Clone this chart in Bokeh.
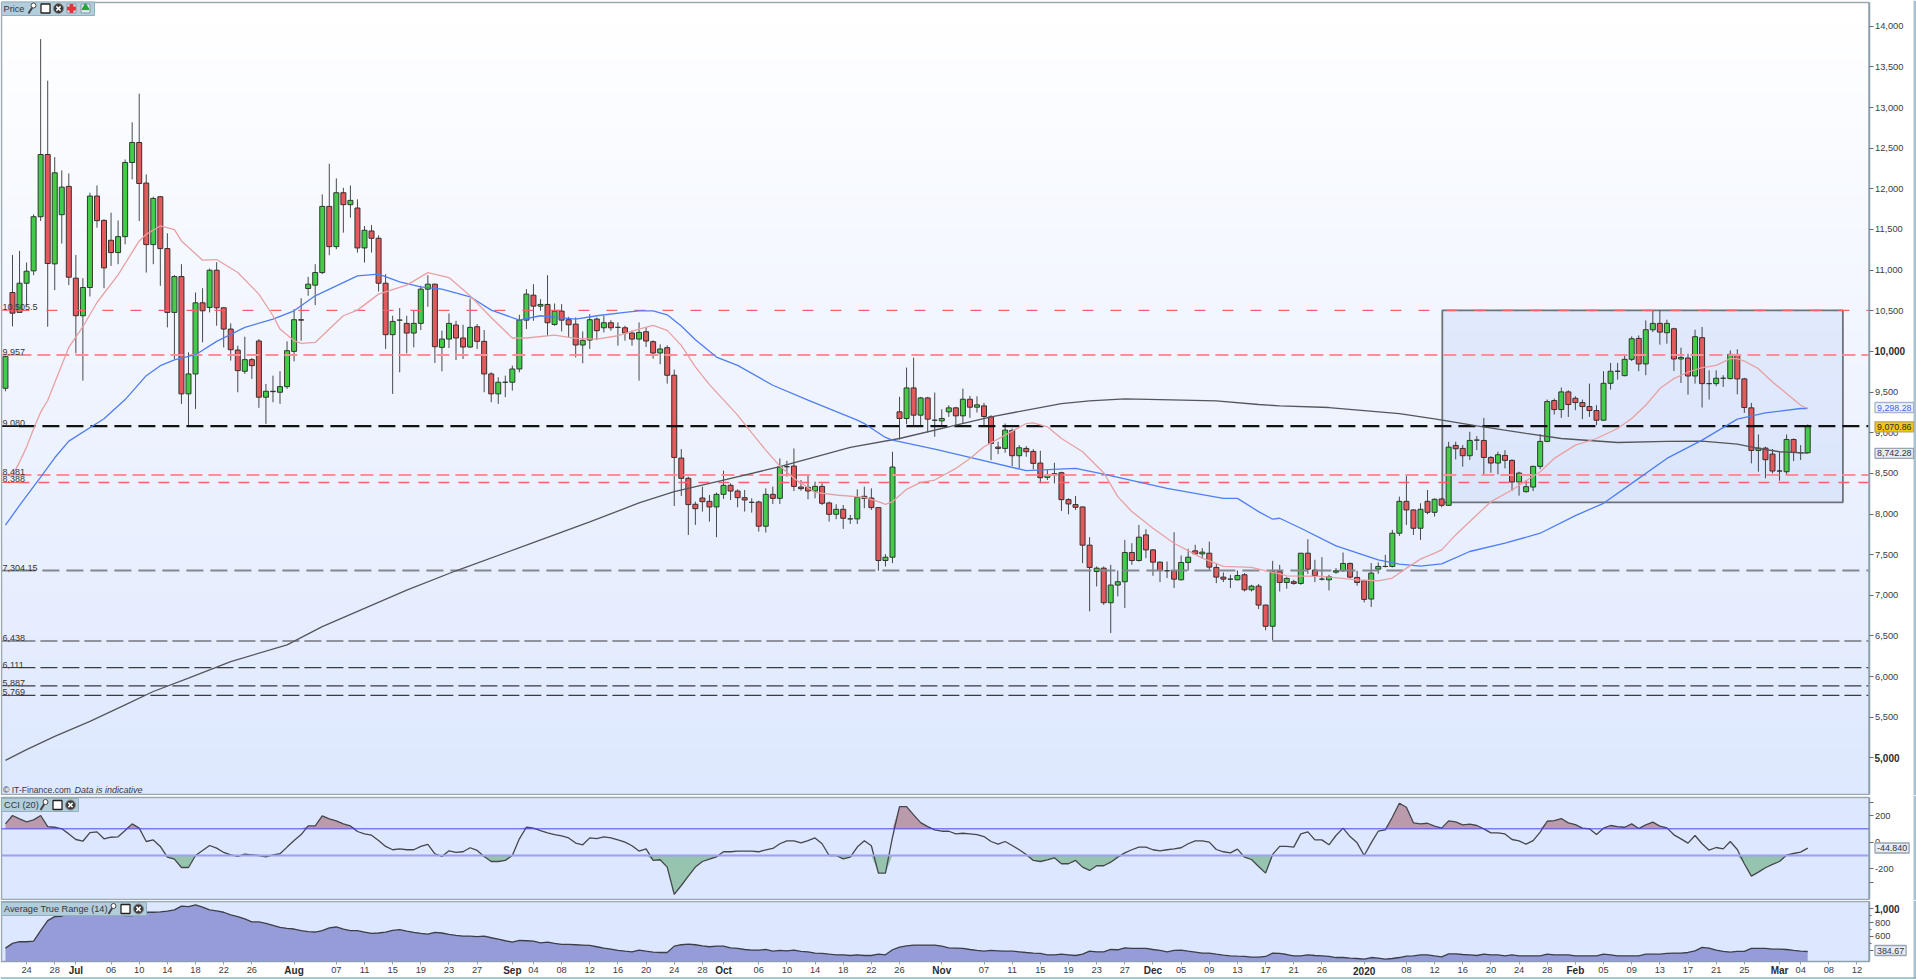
from bokeh.plotting import figure
from bokeh.layouts import column
from bokeh.models import Label, FixedTicker, NumeralTickFormatter, Range1d, LinearAxis
from bokeh.embed import file_html
from bokeh.resources import INLINE

opens = [9547,10725,10480,10839,10991,11657,12422,11077,11682,12030,
10901,10439,10786,11911,11612,11367,11216,11412,12324,12570,
12071,11314,11903,11265,10480,10921,9478,9723,10598,10541,
10999,10537,10275,10017,9756,9899,10128,9437,9510,9498,
9567,10001,10390,10774,10815,10970,11784,11289,11952,11805,
11764,11273,11482,11392,10839,10206,10385,10345,10226,10345,
10766,10827,10050,10152,10324,10165,10054,10304,10124,9723,
9478,9621,9621,9784,10385,10692,10557,10578,10332,10496,
10390,10336,10079,10140,10398,10291,10353,10296,10291,10226,
10152,10242,10120,9981,10046,9707,8688,8439,8120,8197,
8156,8087,8242,8353,8283,8201,8144,8148,7850,8242,
8193,8582,8590,8332,8328,8283,8340,8136,7997,8058,
7940,7940,8218,8197,8079,7428,7469,9257,9175,9551,
9216,9428,9154,9146,9257,9306,9208,9412,9314,9330,
9195,8823,8807,9028,8717,8807,8770,8627,8451,8480,
8508,8177,8116,8087,7617,7293,7334,6909,7126,7167,
7527,7428,7743,7559,7408,7302,7302,7191,7404,7547,
7510,7518,7343,7224,7199,7191,7253,7068,7113,6880,
6619,7293,7158,7167,7146,7518,7310,7199,7191,7285,
7302,7392,7220,7179,6954,7322,7355,7355,7764,8156,
8050,7825,8156,8021,8185,8107,8844,8807,8717,8909,
8905,8696,8627,8721,8660,8394,8275,8332,8586,8893,
9396,9285,9502,9424,9371,9322,9273,9154,9608,9756,
9702,9903,10160,9846,10267,10345,10230,10279,9907,9919,
9698,10169,9604,9604,9670,9666,9960,9662,9306,8782,
8811,8737,8529,8520,8917,8754,8754]
highs = [9948,11187,11236,11093,11686,13842,13330,12390,12226,12189,
11187,10901,11952,12042,11625,11707,11612,12361,12819,13171,
12177,11903,11911,11453,10938,11073,9989,10725,10778,11019,
11097,10537,10345,10071,10181,9919,10152,9600,9702,9756,
10124,10520,10655,10917,11073,11932,12308,12128,12013,12042,
11870,11543,11555,11428,10950,10439,10533,10439,10500,10807,
10938,10835,10255,10467,10377,10328,10651,10336,10263,9743,
9682,9702,9825,10451,10766,10827,10643,10938,10590,10582,
10426,10418,10246,10459,10418,10439,10385,10357,10316,10255,
10357,10300,10136,10087,10075,9776,8799,8459,8152,8336,
8234,8263,8533,8377,8304,8296,8193,8165,8316,8336,
8684,8655,8807,8418,8480,8398,8377,8152,8120,8111,
7989,8304,8336,8316,8079,7506,8766,9441,9801,9923,
9441,9441,9494,9289,9338,9318,9543,9453,9449,9367,
9216,8889,9113,9052,8848,8835,8799,8778,8541,8631,
8520,8193,8222,8091,7715,7355,7355,7375,7306,7682,
7641,7866,7813,7567,7416,7416,7776,7490,7572,7621,
7580,7661,7396,7281,7253,7306,7273,7130,7138,6884,
7424,7375,7224,7191,7518,7690,7437,7469,7253,7334,
7527,7404,7302,7191,7396,7404,7498,7805,8214,8467,
8058,8132,8295,8193,8193,8889,8889,8848,9011,8958,
9183,8713,8766,8786,8672,8520,8418,8594,8983,9408,
9420,9555,9522,9449,9408,9604,9338,9756,9858,9858,
9952,10185,10197,10381,10504,10504,10390,10291,10046,9972,
10267,10300,9768,9768,9707,10013,10026,9674,9367,8978,
8827,8799,8766,8978,8929,8848,9101]
lows = [9510,10308,10480,10561,10938,11604,10304,10754,11326,10815,
9976,9641,10676,11522,10778,11052,11073,11318,12116,11604,
10970,11073,10807,10296,9907,9355,9089,9293,10111,10480,
10316,10050,9887,9498,9723,9662,9306,9109,9375,9355,
9539,9878,10132,10684,10570,10950,11183,11257,11461,11645,
11216,11093,11216,10737,10030,9478,9743,9976,10050,10263,
10549,9858,9756,10042,9895,9907,10042,10030,9498,9375,
9355,9437,9518,9743,10275,10377,10500,10193,10316,10246,
10165,9927,9854,10030,10140,10234,10255,10071,10132,10071,
9641,10054,9911,9842,9604,8099,8222,7743,7866,8030,
7907,7715,8185,8173,8083,8030,8017,7784,7772,8124,
8124,8459,8283,8287,8181,8193,8111,7907,7936,7817,
7878,7878,8071,8050,7302,7355,7396,8917,9105,9093,
9093,9001,8950,9073,9195,9081,9113,9183,9248,9081,
8664,8737,8754,8590,8561,8704,8549,8377,8418,8377,
8038,7997,8050,7396,6803,7109,6884,6537,6987,6844,
7375,7416,7457,7240,7163,7212,7089,7183,7302,7498,
7457,7314,7150,7163,7089,7183,7048,7048,6831,6570,
6447,7048,7081,7130,7130,7265,7163,7183,7060,7265,
7289,7212,7118,6913,6856,7265,7343,7343,7731,7866,
7743,7682,7997,7968,8083,8099,8672,8582,8664,8786,
8488,8508,8488,8561,8283,8226,8263,8283,8553,8884,
9224,9183,9195,9277,9167,9195,9093,9146,9531,9653,
9694,9882,9756,9707,10238,10083,10095,9760,9612,9469,
9604,9310,9408,9572,9563,9657,9473,9244,8623,8520,
8439,8500,8410,8480,8651,8664,8745]
closes = [9936,10471,10839,10987,11657,12422,11081,12197,12021,10913,
10439,10786,11911,11608,11028,11216,11412,12324,12570,12066,
11314,11882,11265,10480,10921,9478,9723,10598,10500,10999,
10537,10275,10021,9764,9899,9825,9437,9510,9505,9567,
10009,10390,10385,10827,10970,11784,11289,11952,11805,11858,
11273,11490,11392,10839,10206,10369,10385,10226,10345,10766,
10827,10058,10152,10345,10165,10054,10296,10124,9723,9478,
9621,9621,9784,10385,10705,10557,10578,10353,10496,10385,
10328,10079,10136,10390,10255,10353,10291,10296,10226,10152,
10234,10128,9981,10030,9707,8696,8439,8116,8066,8152,
8087,8242,8353,8283,8201,8173,8144,7850,8242,8193,
8578,8582,8340,8312,8283,8340,8132,7997,8058,7948,
7940,8205,8193,8079,7428,7469,8578,9175,9551,9216,
9428,9167,9154,9175,9306,9208,9412,9314,9343,9199,
8868,8807,9032,8717,8815,8766,8623,8447,8475,8496,
8177,8124,8083,7617,7343,7334,6909,7126,7167,7527,
7428,7715,7559,7408,7306,7302,7199,7404,7469,7510,
7531,7347,7224,7199,7199,7244,7068,7113,6880,6619,
7289,7158,7208,7146,7518,7322,7244,7199,7228,7302,
7392,7224,7158,6950,7273,7355,7355,7764,8156,8050,
7825,8058,8021,8181,8107,8823,8803,8717,8905,8909,
8696,8627,8729,8660,8394,8504,8336,8586,8893,9383,
9285,9502,9347,9371,9322,9273,9154,9608,9756,9756,
9903,10156,9846,10267,10345,10238,10345,9907,9927,9698,
10181,9604,9604,9670,9670,9964,9662,9310,8782,8811,
8668,8529,8529,8917,8758,8754,9081]

ma20_bars = [1,2,3,4,5,6,9,11,13,16,19,20,22,24,25,28,30,33,36,38,39,41,42,44,46,48,50,53,57,60,63,66,69,72,74,78,81,84,87,90,
92,94,96,98,100,104,106,108,110,112,115,118,122,124,125,126,128,130,132,135,137,139,142,145,146,148,150,153,156,158,160,163,166,170,173,177,180,
181,182,187,192,195,197,199,201,203,204,206,208,211,214,216,218,220,223,226,229,231,233,235,237,239,241,243,245,246,247,249,251,253,255,256]
ma20_vals = [8475,8639,8823,9048,9253,9396,10050,10304,10602,10942,11359,11441,11543,11498,11359,11122,11130,10970,10705,10439,10275,10132,10099,10111,10275,10439,10508,10705,10815,10970,10909,10684,10418,10165,10165,10201,10160,10152,10193,10275,
10320,10259,10075,9809,9592,9216,8999,8786,8590,8439,8267,8234,8205,8152,8120,8152,8304,8390,8418,8561,8684,8827,8970,9113,9122,9073,8929,8766,8508,8214,8030,7825,7641,7457,7355,7343,7281,
7265,7240,7232,7191,7179,7212,7334,7445,7518,7559,7743,7907,8152,8295,8410,8520,8684,8848,8929,9052,9175,9338,9543,9666,9747,9801,9829,9911,9911,9882,9788,9625,9482,9338,9298]
ma50_bars = [0,2,5,7,9,14,17,20,22,24,27,30,34,38,41,44,47,50,53,56,59,62,66,69,73,76,81,84,88,90,
92,94,96,98,101,104,109,114,121,122,125,126,132,137,145,152,156,165,173,175,178,180,
181,184,189,195,198,201,204,208,213,218,223,227,231,236,241,246,250,255,256]
ma50_vals = [7862,8107,8455,8692,8897,9171,9408,9702,9825,9895,9960,10124,10296,10398,10500,10684,10807,10929,10950,10856,10794,10766,10672,10508,10385,10439,10398,10439,10480,10500,
10500,10451,10312,10144,9931,9829,9584,9400,9154,9113,8942,8909,8799,8696,8533,8561,8492,8316,8193,8193,8030,7936,
7948,7825,7608,7437,7383,7359,7387,7539,7641,7764,7981,8132,8377,8684,8909,9167,9244,9298,9298]
ma200_bars = [0,3,7,12,17,21,26,32,40,45,51,57,64,74,83,90,95,102,110,120,127,135,140,150,154,159,164,172,178,181,188,198,203,209,216,221,229,236,241,246,249,252,256]
ma200_vals = [4970,5101,5265,5449,5653,5817,5981,6185,6390,6615,6840,7064,7302,7617,7903,8136,8275,8418,8582,8819,8929,9093,9195,9359,9392,9416,9408,9392,9347,9330,9310,9236,9171,9085,8991,8929,8880,8893,8897,8860,8807,8766,8750]

cci = [137,200,175,152,167,200,117,112,100,62,
20,7,72,77,25,37,40,87,137,105,
5,17,-32,-112,-127,-190,-190,-100,-62,-25,
-45,-77,-95,-107,-90,-95,-100,-110,-95,-87,
-37,12,57,122,122,197,175,160,137,122,
80,62,52,12,-32,-57,-50,-57,-57,-32,
-17,-87,-107,-65,-77,-72,-42,-62,-107,-145,
-145,-137,-100,25,112,105,87,70,57,47,
32,-7,-20,32,27,40,32,17,0,-27,
-67,-50,-137,-132,-187,-392,-325,-255,-187,-145,
-127,-110,-72,-72,-67,-67,-67,-72,-57,-47,
-12,10,10,-5,12,32,-12,-100,-100,-125,
-112,-37,10,-27,-232,-232,37,267,267,205,
147,117,92,82,82,62,67,62,57,42,
5,-15,5,-25,-57,-92,-137,-145,-132,-117,
-162,-162,-137,-187,-212,-177,-177,-150,-112,-80,
-57,-37,-37,-57,-65,-57,-50,-42,-12,10,
10,0,-55,-72,-80,-52,-112,-130,-182,-232,
-92,-32,-32,-37,62,77,17,17,-20,50,
105,42,-5,-100,-5,82,92,187,292,262,
145,137,142,120,105,160,152,130,135,125,
100,70,70,62,20,10,-15,12,75,157,
162,177,145,132,105,100,57,105,125,117,
112,137,102,130,150,120,107,55,25,-7,
50,-12,-60,-40,-50,5,-55,-162,-255,-225,
-192,-167,-145,-97,-85,-75,-45]
atr = [434,501,525,525,534,683,827,885,890,947,
962,971,962,957,933,923,909,899,899,914,
947,947,952,962,981,1034,1029,1053,1019,981,
966,947,909,885,851,808,808,789,760,731,
717,707,683,669,664,683,722,736,707,683,
683,664,645,650,664,688,698,678,659,645,
635,659,650,630,616,606,606,597,606,582,
563,539,520,544,539,534,510,520,501,486,
486,482,477,472,453,434,419,400,390,381,
405,390,376,371,371,462,482,491,482,467,
453,462,462,438,429,414,405,405,414,390,
400,395,405,386,381,362,357,347,338,338,
328,338,328,328,347,338,410,448,467,477,
477,477,477,462,438,434,429,414,400,390,
400,395,390,390,381,371,362,357,338,338,
347,338,328,347,390,381,381,414,410,438,
429,429,429,414,400,381,400,405,390,376,
362,362,347,333,323,318,314,304,304,314,
362,357,342,323,323,338,328,323,314,299,
299,290,285,275,299,290,275,285,299,318,
323,338,338,323,309,352,352,342,338,328,
347,338,338,323,338,323,323,323,323,347,
338,338,338,323,323,323,323,347,338,323,
323,323,323,347,347,347,357,362,362,371,
395,443,434,405,386,376,386,386,429,429,
429,419,419,414,400,390,385]

level_values = [10505.5,9957,9080,8481,8388,7304.15,6438,6111,5887,5769]
level_labels = ["10,505.5","9,957","9,080","8,481","8,388","7,304.15","6,438","6,111","5,887","5,769"]
level_colors = ["#ff5f66","#ff8f96","#111111","#ff8f96","#ff5f66","#85878f","#3a3a3f","#3a3a3f","#3a3a3f","#3a3a3f"]
level_widths = [1.3,2,2.2,2,1.3,2,1.2,1.2,1.2,1.2]
level_dashes = ["11 17","13 6","17 7","13 6","11 9","17 7","17 5","17 5","17 5","17 5"]
box_bars = (204.1, 261)
box_prices = (10504, 8144)

price_ticks = list(range(5000, 14001, 500))
date_bars = [3,7,15,19,23,27,31,35,47,51,55,59,63,67,75,79,83,87,91,95,99,107,111,115,119,123,127,139,143,147,151,155,159,167,171,175,179,183,187,199,203,207,211,215,219,227,231,235,239,243,247,255,259,263]
date_names = ["24","28","06","10","14","18","22","26","07","11","15","19","23","27","04","08","12","16","20","24","28","06","10","14","18","22","26","07","11","15","19","23","27","05","09","13","17","21","26","08","12","16","20","24","28","05","09","13","17","21","25","04","08","12"]
month_bars = [10,41,72,102,133,163,193,223,252]
month_names = ["Jul","Aug","Sep","Oct","Nov","Dec","2020","Feb","Mar"]

FONT = "Liberation Sans"
W = 1916
BAR_PX, BAR0_PX = 7.04, 4.95
XF_LO, XF_HI = -BAR0_PX / BAR_PX, (W - BAR0_PX) / BAR_PX   # whole page width
fx = lambda px: XF_LO + px / BAR_PX
X_LO, X_HI = fx(1), fx(1868.5)
bars = list(range(len(opens)))
TICK_FS, BOLD_FS, BOX_FS = "9.3px", "10px", "8.9px"


def make(page_top, page_bot, panel_top, panel_bot, y_lo, y_hi):
    per_px = (y_hi - y_lo) / (panel_bot - panel_top)
    top = y_hi + (panel_top - page_top) * per_px
    bot = y_lo - (page_bot - panel_bot) * per_px
    p = figure(width=W, height=page_bot - page_top, output_backend="svg", toolbar_location=None,
               x_range=Range1d(XF_LO, XF_HI), y_range=Range1d(bot, top),
               x_axis_location=None, y_axis_location=None, min_border=0)
    p.grid.visible = False
    p.outline_line_color = None
    p.background_fill_color = "#ffffff"
    p.border_fill_color = "#ffffff"
    # pale edge of the chart window at the far right
    p.line(x=[fx(1914.5), fx(1914.5)], y=[bot, top], line_color="#a6c4d3", line_width=3)
    fy = lambda py: y_hi - (py - panel_top) * per_px
    return p, fy


def right_axis(p, lo, hi, ticks, minor=None, overrides=None, numeric=True):
    ax = LinearAxis(fixed_location=X_HI, bounds=(lo, hi),
                    ticker=FixedTicker(ticks=ticks, minor_ticks=minor or []))
    ax.axis_line_color = "#8ba0aa"
    ax.axis_line_width = 1.5
    ax.major_tick_line_color = "#667"
    ax.minor_tick_line_color = "#667"
    ax.major_tick_out = 4
    ax.major_tick_in = 0
    ax.minor_tick_out = 2
    ax.minor_tick_in = 0
    ax.major_label_standoff = 2
    ax.major_label_text_font = FONT
    ax.major_label_text_font_size = TICK_FS
    ax.major_label_text_color = "#3c3c44"
    if numeric:
        ax.formatter = NumeralTickFormatter(format="0,0")
    if overrides:
        ax.major_label_overrides = overrides
    p.add_layout(ax, "right")
    return ax


def bold_tick(p, text, v):
    p.add_layout(Label(x=fx(1874), y=v, text=text, text_font=FONT, text_font_size=BOLD_FS,
                       text_font_style="bold", text_color="#2b2b30", text_baseline="middle"))


def tag(p, fy, text, left, right, top, bottom, text_px=4):
    p.quad(left=[fx(left)], right=[fx(right)], top=[fy(top)], bottom=[fy(bottom)],
           fill_color="#b4cddb", line_color="#8fb0c0", line_width=1)
    p.add_layout(Label(x=fx(text_px), y=fy((top + bottom) / 2), text=text, text_font=FONT,
                       text_font_size="9.2px", text_color="#33363c", text_baseline="middle"))


def icons(p, fy, xs, cy):
    p.segment(x0=[fx(xs[0] - 3)], y0=[fy(cy + 5)], x1=[fx(xs[0] + 2)], y1=[fy(cy - 3)], line_color="#444", line_width=2)
    p.scatter(x=[fx(xs[0] + 2)], y=[fy(cy - 3)], marker="circle", size=5, fill_color="#ffffff", line_color="#444")
    p.scatter(x=[fx(xs[1])], y=[fy(cy)], marker="square", size=9, fill_color="#ffffff", line_color="#222", line_width=1.3)
    p.scatter(x=[fx(xs[2])], y=[fy(cy)], marker="circle", size=10, fill_color="#3a3a3a", line_color="#888")
    p.scatter(x=[fx(xs[2])], y=[fy(cy)], marker="x", size=6, line_color="#ffffff", line_width=1.5)


def value_box(p, fy, text, cy, bg, border, color):
    p.add_layout(Label(x=fx(1874.5), y=fy(cy), text=text, text_font=FONT, text_font_size=BOX_FS,
                       text_color=color, text_baseline="middle", background_fill_color=bg,
                       border_line_color=border, border_line_width=1.3, padding=2))


def panel_frame(p, lo, hi, fill=None):
    p.quad(left=[X_LO], right=[X_HI], top=[hi], bottom=[lo],
           fill_color=fill, line_color="#9aa9b2", line_width=1.5)


# ---------- price panel ----------
P_LO, P_HI = 4550, 14292
price, py = make(0, 795, 2, 794, P_LO, P_HI)

N = 70
for k in range(N):
    t = k / (N - 1)
    col = "#%02x%02x%02x" % (round(255 - 33 * t), round(255 - 23 * t), round(255 - 1 * t))
    price.quad(left=[X_LO], right=[X_HI], top=[P_HI - (P_HI - P_LO) * k / N], bottom=[P_LO],
               fill_color=col, line_color=None)

price.quad(left=[box_bars[0]], right=[box_bars[1]], top=[box_prices[0]], bottom=[box_prices[1]],
           fill_color="#c4d4f6", fill_alpha=0.38, line_color="#6f7378", line_width=1.8)

price.segment(x0=bars, y0=lows, x1=bars, y1=highs, line_color="#2b2b2b", line_width=1, line_alpha=0.85)
up = [i for i in bars if closes[i] >= opens[i]]
dn = [i for i in bars if closes[i] < opens[i]]
price.vbar(x=up, width=0.71, bottom=[opens[i] for i in up], top=[closes[i] for i in up],
           fill_color="#43cc4a", line_color="#2e3a2e", line_width=1)
price.vbar(x=dn, width=0.71, bottom=[closes[i] for i in dn], top=[opens[i] for i in dn],
           fill_color="#e35a5c", line_color="#3a2e2e", line_width=1)

for v, lab, c, w, d in zip(level_values, level_labels, level_colors, level_widths, level_dashes):
    price.line(x=[X_LO + 2.4, X_HI], y=[v, v], line_color=c, line_width=w, line_dash=d)
    price.line(x=[X_LO, X_LO + 2.4], y=[v, v], line_color=c, line_width=w * 0.8)
    price.add_layout(Label(x=fx(2), y=v, text=lab, text_font=FONT, text_font_size="9px",
                           text_color="#34343a", text_baseline="bottom"))

price.line(x=ma200_bars, y=ma200_vals, line_color="#55565c", line_width=1.3)
price.line(x=ma50_bars, y=ma50_vals, line_color="#4f7df5", line_width=1.3)
price.line(x=ma20_bars, y=ma20_vals, line_color="#e9a0a2", line_width=1.3)
panel_frame(price, P_LO, P_HI)

right_axis(price, P_LO, P_HI, price_ticks, overrides={10000: "", 5000: ""})
bold_tick(price, "10,000", 10000)
bold_tick(price, "5,000", 5000)

tag(price, py, "Price", 1, 94, 1.5, 15, text_px=3)
icons(price, py, [31, 45, 58], 8)
price.scatter(x=[fx(71)], y=[py(8)], marker="square", size=9, fill_color="#dfe6ee", line_color="#8a9aa6")
price.scatter(x=[fx(71)], y=[py(8)], marker="plus", size=8, fill_color="#e2353b", line_color="#e2353b", line_width=1)
price.scatter(x=[fx(85)], y=[py(8)], marker="square", size=9, fill_color="#dfe6ee", line_color="#8a9aa6")
price.scatter(x=[fx(85)], y=[py(7)], marker="triangle", size=7, fill_color="#22a63a", line_color="#22a63a")

price.add_layout(Label(x=fx(2.5), y=py(789), text="© IT-Finance.com", text_font=FONT, text_font_size="8.6px",
                       text_color="#33363c", text_baseline="middle"))
price.add_layout(Label(x=fx(74), y=py(789), text="Data is indicative", text_font=FONT, text_font_size="9px",
                       text_font_style="italic", text_color="#33363c", text_baseline="middle"))

value_box(price, py, "9,298.28", 407, "#eef3ff", "#a9b6cc", "#3a66e8")
value_box(price, py, "9,070.86", 426.3, "#f5c518", "#b9a560", "#2c2c2c")
value_box(price, py, "8,742.28", 452.8, "#e6ebf5", "#9aa3b0", "#33363c")

# ---------- CCI panel ----------
C_LO, C_HI = -430, 335
cci_p, cy = make(795, 900, 797, 899, C_LO, C_HI)
panel_frame(cci_p, C_LO, C_HI, "#dde7ff")
cci_p.varea(x=bars, y1=[100] * len(bars), y2=[max(v, 100) for v in cci], fill_color="#bb9aab")
cci_p.varea(x=bars, y1=[-100] * len(bars), y2=[min(v, -100) for v in cci], fill_color="#96c4ae")
cci_p.line(x=bars, y=cci, line_color="#45474d", line_width=1.3)
cci_p.line(x=[X_LO, X_HI], y=[100, 100], line_color="#4a4ae6", line_width=1)
cci_p.line(x=[X_LO, X_HI], y=[-100, -100], line_color="#9e9ff2", line_width=2)
right_axis(cci_p, C_LO, C_HI, [300, 200, 0, -200, -300], numeric=False,
           overrides={300: "", -300: "", 200: "200", 0: "0", -200: "-200"})
tag(cci_p, cy, "CCI (20)", 1, 78, 798, 811, text_px=3.5)
icons(cci_p, cy, [43, 57, 70], 804.5)
value_box(cci_p, cy, "-44.840", 847.5, "#e6ebf5", "#9aa3b0", "#33363c")

# ---------- ATR panel ----------
A_LO, A_HI = 242, 1101
atr_p, ay = make(900, 979, 901, 961, A_LO, A_HI)
panel_frame(atr_p, A_LO, A_HI, "#dde7ff")
atr_p.varea(x=bars, y1=[A_LO] * len(bars), y2=atr, fill_color="#969cd8")
atr_p.line(x=bars, y=atr, line_color="#3d3f48", line_width=1.3)
right_axis(atr_p, A_LO, A_HI, [1000, 800, 600, 400], minor=[900, 700, 500], overrides={1000: "", 400: ""})
bold_tick(atr_p, "1,000", 1000)
tag(atr_p, ay, "Average True Range (14)", 1, 146, 902, 915, text_px=3.5)
icons(atr_p, ay, [111, 125, 138], 908.5)
value_box(atr_p, ay, "384.67", 950, "#e6ebf5", "#9aa3b0", "#33363c")

overrides = {b: n for b, n in zip(date_bars, date_names)}
overrides.update({b: "" for b in month_bars})
xa = LinearAxis(fixed_location=A_LO, bounds=(X_LO, X_HI), ticker=FixedTicker(ticks=date_bars + month_bars),
                major_label_overrides=overrides)
xa.major_label_text_font = FONT
xa.major_label_text_font_size = "9.3px"
xa.major_label_text_color = "#3c3c44"
xa.major_label_standoff = 2
xa.major_tick_out = 3
xa.major_tick_in = 0
xa.major_tick_line_color = "#8ba0aa"
xa.minor_tick_line_color = None
xa.axis_line_color = "#8ba0aa"
atr_p.add_layout(xa, "below")
for b, n in zip(month_bars, month_names):
    atr_p.add_layout(Label(x=b, y=ay(970), text=n, text_font=FONT, text_font_size=BOLD_FS,
                           text_font_style="bold", text_color="#2b2b30", text_baseline="middle",
                           text_align="center"))
atr_p.line(x=[XF_LO, XF_HI], y=[ay(977.5), ay(977.5)], line_color="#8fb3bd", line_width=1.5)

page = column(price, cci_p, atr_p, spacing=0)
open("out.html", "w").write(file_html(page, INLINE))
